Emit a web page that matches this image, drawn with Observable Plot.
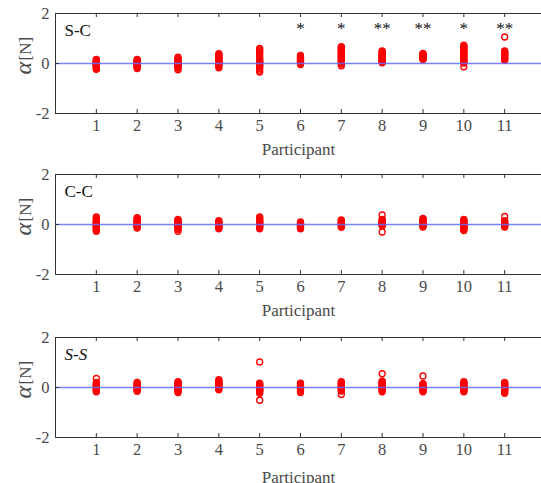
<!DOCTYPE html>
<html>
<head>
<meta charset="utf-8">
<script src="https://cdn.jsdelivr.net/npm/d3@7"></script>
<script src="https://cdn.jsdelivr.net/npm/@observablehq/plot@0.6"></script>
<style>
  body { margin: 0; background: white; }
  #wrap { position: relative; width: 541px; height: 483px; overflow: hidden; background: white; }
  .panel { position: absolute; left: 0; }
  .panel svg, .panel svg text { font-family: "Liberation Serif", "Times New Roman", serif !important; }
</style>
</head>
<body>
<div id="wrap"></div>
<script>
// ---- data ----
const participants = [1, 2, 3, 4, 5, 6, 7, 8, 9, 10, 11];
const yTicks = [-2, 0, 2];
const panelNames = ["S-C", "C-C", "S-S"];
const significance = ["", "", "", "", "", "*", "*", "**", "**", "*", "**"];

const valuesSC = [
  [0.16, 0.13, 0.1, 0.08, 0.05, 0.03, 0.01, 0, -0.02, -0.04, -0.06, -0.08, -0.1, -0.12, -0.15, -0.18, -0.21, -0.23],
  [0.16, 0.13, 0.11, 0.09, 0.06, 0.04, 0.02, 0, -0.02, -0.04, -0.06, -0.09, -0.11, -0.14, -0.17, -0.2],
  [0.25, 0.2, 0.16, 0.12, 0.09, 0.06, 0.04, 0.01, -0.01, -0.04, -0.06, -0.09, -0.12, -0.15, -0.19, -0.25],
  [0.39, 0.36, 0.33, 0.3, 0.27, 0.24, 0.21, 0.18, 0.15, 0.12, 0.1, 0.07, 0.04, 0.01, -0.02, -0.05, -0.08, -0.12, -0.17],
  [0.6, 0.55, 0.5, 0.44, 0.38, 0.3, 0.22, 0.17, 0.12, 0.08, 0.05, 0.02, 0, -0.03, -0.06, -0.1, -0.14, -0.2, -0.27, -0.34],
  [0.32, 0.29, 0.26, 0.23, 0.2, 0.17, 0.15, 0.12, 0.1, 0.07, 0.05, 0.02, 0, -0.04],
  [0.67, 0.63, 0.6, 0.56, 0.52, 0.48, 0.44, 0.4, 0.35, 0.3, 0.26, 0.22, 0.18, 0.14, 0.1, 0.06, 0.02, -0.02, -0.09],
  [0.5, 0.47, 0.44, 0.41, 0.38, 0.35, 0.32, 0.29, 0.26, 0.23, 0.2, 0.17, 0.14, 0.11, 0.08, 0.05, 0.03],
  [0.4, 0.37, 0.35, 0.32, 0.3, 0.28, 0.26, 0.24, 0.22, 0.2, 0.18, 0.16],
  [0.73, 0.69, 0.65, 0.61, 0.57, 0.53, 0.49, 0.45, 0.41, 0.37, 0.33, 0.29, 0.25, 0.21, 0.17, 0.13, 0.09, 0.05, 0.02, -0.13],
  [1.06, 0.5, 0.47, 0.44, 0.41, 0.38, 0.35, 0.32, 0.29, 0.26, 0.23, 0.2, 0.17, 0.15, 0.13]
];
const valuesCC = [
  [0.3, 0.26, 0.2, 0.16, 0.12, 0.09, 0.06, 0.03, 0.01, -0.02, -0.05, -0.08, -0.11, -0.15, -0.19, -0.23, -0.27],
  [0.27, 0.23, 0.2, 0.17, 0.14, 0.11, 0.08, 0.05, 0.03, 0, -0.03, -0.06, -0.09, -0.12, -0.14],
  [0.2, 0.17, 0.14, 0.11, 0.08, 0.05, 0.02, 0, -0.03, -0.06, -0.09, -0.12, -0.15, -0.19, -0.27],
  [0.15, 0.12, 0.09, 0.06, 0.03, 0.01, -0.02, -0.05, -0.08, -0.11, -0.14, -0.17],
  [0.3, 0.26, 0.22, 0.18, 0.14, 0.11, 0.08, 0.05, 0.02, 0, -0.03, -0.06, -0.09, -0.12, -0.17],
  [0.1, 0.07, 0.04, 0.02, 0, -0.03, -0.06, -0.09, -0.12, -0.15, -0.17],
  [0.18, 0.15, 0.12, 0.09, 0.06, 0.03, 0.01, -0.02, -0.05, -0.08, -0.11],
  [0.38, 0.2, 0.17, 0.14, 0.11, 0.08, 0.05, 0.03, 0, -0.03, -0.05, -0.3],
  [0.24, 0.2, 0.17, 0.14, 0.11, 0.08, 0.05, 0.02, 0, -0.03, -0.06, -0.1],
  [0.2, 0.16, 0.13, 0.1, 0.07, 0.04, 0.01, -0.02, -0.05, -0.08, -0.11, -0.14, -0.17, -0.2, -0.24],
  [0.32, 0.15, 0.12, 0.09, 0.06, 0.03, 0.01, -0.02, -0.05, -0.08, -0.1]
];
const valuesSS = [
  [0.36, 0.2, 0.16, 0.13, 0.1, 0.07, 0.04, 0.01, -0.02, -0.05, -0.08, -0.11, -0.14, -0.17],
  [0.2, 0.17, 0.14, 0.11, 0.08, 0.05, 0.02, 0, -0.03, -0.06, -0.09, -0.12, -0.15],
  [0.23, 0.2, 0.17, 0.14, 0.11, 0.08, 0.05, 0.02, 0, -0.03, -0.06, -0.09, -0.12, -0.16, -0.2],
  [0.31, 0.27, 0.24, 0.21, 0.18, 0.15, 0.12, 0.09, 0.06, 0.03, 0, -0.03, -0.06, -0.09],
  [1.02, 0.17, 0.14, 0.11, 0.08, 0.05, 0.02, 0, -0.03, -0.06, -0.09, -0.12, -0.15, -0.18, -0.23, -0.51],
  [0.17, 0.14, 0.11, 0.08, 0.05, 0.02, 0, -0.03, -0.06, -0.1, -0.15, -0.2],
  [0.23, 0.2, 0.17, 0.14, 0.11, 0.08, 0.05, 0.02, 0, -0.03, -0.06, -0.1, -0.14, -0.28],
  [0.55, 0.25, 0.22, 0.19, 0.16, 0.13, 0.1, 0.07, 0.04, 0.01, -0.02, -0.05, -0.08, -0.12, -0.17],
  [0.46, 0.15, 0.12, 0.09, 0.06, 0.03, 0.01, -0.02, -0.05, -0.08, -0.11, -0.14, -0.17],
  [0.23, 0.2, 0.17, 0.14, 0.11, 0.08, 0.05, 0.02, 0, -0.03, -0.06, -0.09, -0.12, -0.15, -0.17],
  [0.2, 0.17, 0.14, 0.11, 0.08, 0.05, 0.02, 0, -0.03, -0.06, -0.09, -0.12, -0.15, -0.19, -0.23]
];
const panelValues = [valuesSC, valuesCC, valuesSS];

// ---- drawing ----
const W = 541, H = 162, MT = 13, MB = 49, ML = 55;
const innerH = H - MT - MB;
const tops = [0, 161, 324];
const labelOffsets = [29, 29, 33];
const font = "'Liberation Serif', 'Times New Roman', serif";
const gray = "#4a4a4a";
const wrap = document.getElementById("wrap");

panelNames.forEach((name, i) => {
  const pts = [];
  panelValues[i].forEach((vals, j) => vals.forEach(v => pts.push({p: participants[j], v})));
  const sig = i === 0 ? participants.map((p, j) => ({p, s: significance[j]})).filter(d => d.s) : [];

  const svg = Plot.plot({
    width: W, height: H,
    marginTop: MT, marginBottom: MB, marginLeft: ML, marginRight: 0,
    style: `font-family: ${font}; font-size: 16px; color: ${gray}; background: white;`,
    x: {domain: [0, 12], range: [ML, 545]},
    y: {domain: [-2, 2]},
    marks: [
      Plot.dot(pts, {x: "p", y: "v", r: 3, stroke: "#ff0000", strokeWidth: 1.3, fill: "none"}),
      Plot.ruleY([0], {x1: 0, x2: 12, stroke: "#5f6cff", strokeWidth: 1.5, strokeOpacity: 0.85}),
      // box
      Plot.ruleY([-2, 2], {x1: 0, x2: 12, stroke: "#333", strokeWidth: 1}),
      Plot.ruleX([0], {y1: -2, y2: 2, stroke: "#333", strokeWidth: 1}),
      // inward ticks
      Plot.tickX(participants, {x: d => d, insetBottom: innerH - 4, stroke: "#333"}),
      Plot.tickX(participants, {x: d => d, insetTop: innerH - 4, stroke: "#333"}),
      Plot.tickY(yTicks, {y: d => d, insetRight: (W - ML) - 4, stroke: "#333"}),
      // axes labels
      Plot.axisX({ticks: participants, tickSize: 0, tickPadding: 6, tickFormat: d => String(d), label: null, fontSize: 16.5, fontFamily: font, fill: gray}),
      Plot.axisY({ticks: yTicks, tickSize: 0, tickPadding: 6, tickFormat: d => String(d), label: null, fontSize: 16.5, fontFamily: font, fill: gray}),
      Plot.text(["Participant"], {frameAnchor: "bottom", lineAnchor: "top", dy: labelOffsets[i], fontSize: 17, fontFamily: font, fill: gray}),
      Plot.text(["\u03B1"], {frameAnchor: "left", rotate: -90, textAnchor: "end", lineAnchor: "middle", dx: -32, dy: -1.5, fontSize: 24, fontStyle: "italic", fontFamily: font, fill: gray}),
      Plot.text(["[N]"], {frameAnchor: "left", rotate: -90, textAnchor: "start", lineAnchor: "middle", dx: -30, dy: -3, fontSize: 17, fontFamily: font, fill: gray}),
      // panel name
      Plot.text([name], {frameAnchor: "top-left", textAnchor: "start", lineAnchor: "middle", dx: 9, dy: 17, fontSize: 17, fontFamily: font, fill: "#111", fontStyle: name === "S-S" ? "italic" : "normal"}),
      // significance
      Plot.text(sig, {x: "p", y: () => 1.38, text: "s", fontSize: 17, fontFamily: font, fill: "#111"})
    ]
  });
  const div = document.createElement("div");
  div.className = "panel";
  div.style.top = tops[i] + "px";
  div.appendChild(svg);
  wrap.appendChild(div);
});
</script>
</body>
</html>
